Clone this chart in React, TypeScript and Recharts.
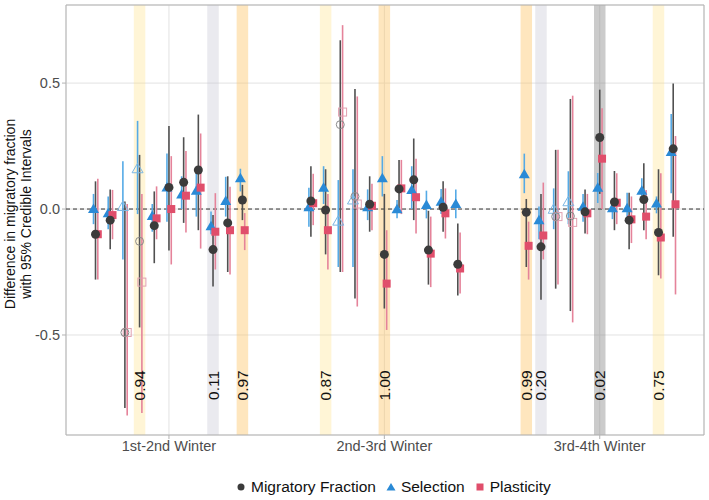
import React from 'react';
import { ComposedChart, Scatter, XAxis, YAxis, CartesianGrid, ReferenceLine, ReferenceArea, ErrorBar } from 'recharts';

// Three winters, 11 contrasts each (plotting order, left to right)
const winters = ['1st-2nd Winter', '2nd-3rd Winter', '3rd-4th Winter'];

// Migratory fraction: estimate and 95% CrI
const mfEst = [
  -0.10, -0.044, -0.49, -0.128, -0.066, 0.086, 0.106, 0.155, -0.161, -0.055, 0.036,
  0.032, -0.004, 0.335, 0.05, 0.019, -0.18, 0.08, 0.116, -0.163, 0.007, -0.219,
  -0.013, -0.15, -0.03, -0.028, -0.011, 0.284, 0.028, -0.044, 0.038, -0.093, 0.239,
];
const mfLow = [
  -0.28, -0.16, -0.79, -0.47, -0.215, -0.165, -0.055, -0.084, -0.307, -0.25, -0.044,
  -0.11, -0.18, -0.25, -0.355, -0.09, -0.395, 0.003, -0.044, -0.30, -0.09, -0.343,
  -0.23, -0.36, -0.316, -0.405, -0.097, 0.06, -0.084, -0.16, -0.084, -0.263, -0.11,
];
const mfHigh = [
  0.11, 0.078, 0.03, 0.215, 0.07, 0.33, 0.285, 0.375, -0.024, 0.13, 0.096,
  0.17, 0.158, 0.67, 0.477, 0.13, 0.06, 0.195, 0.28, -0.007, 0.11, -0.057,
  0.04, 0.06, 0.235, 0.437, 0.078, 0.474, 0.151, 0.065, 0.182, 0.158, 0.498,
];

// Selection
const selEst = [
  0.0, -0.017, 0.01, 0.16, -0.028, 0.086, 0.058, 0.073, -0.068, 0.032, 0.122,
  0.007, 0.085, -0.048, 0.036, 0.007, 0.122, -0.001, 0.076, 0.016, 0.029, 0.02,
  0.138, -0.044, -0.001, 0.029, 0.009, 0.085, 0.003, 0.003, 0.073, 0.022, 0.226,
];
const selLow = [
  -0.06, -0.08, -0.20, -0.02, -0.09, -0.05, 0.0, -0.03, -0.10, -0.03, 0.07,
  -0.07, 0.02, -0.23, -0.23, -0.044, 0.05, -0.037, 0.0, -0.037, -0.02, -0.037,
  0.063, -0.12, -0.08, -0.06, -0.05, 0.024, -0.04, -0.03, 0.029, -0.017, 0.063,
];
const selHigh = [
  0.06, 0.05, 0.19, 0.35, 0.02, 0.22, 0.13, 0.15, -0.01, 0.128, 0.16,
  0.085, 0.17, 0.115, 0.158, 0.078, 0.21, 0.036, 0.17, 0.073, 0.08, 0.078,
  0.22, 0.01, 0.082, 0.15, 0.06, 0.143, 0.036, 0.065, 0.122, 0.05, 0.377,
];

// Plasticity
const plaEst = [
  -0.10, -0.024, -0.49, -0.29, -0.037, 0.0, 0.053, 0.085, -0.09, -0.084, -0.084,
  0.023, -0.084, 0.385, 0.02, 0.013, -0.296, 0.082, 0.047, -0.177, -0.017, -0.236,
  -0.146, -0.105, -0.03, -0.053, -0.017, 0.2, 0.025, -0.041, -0.03, -0.113, 0.019,
];
const plaLow = [
  -0.28, -0.12, -0.82, -0.81, -0.12, -0.22, -0.093, -0.157, -0.24, -0.26, -0.163,
  -0.064, -0.24, -0.25, -0.387, -0.084, -0.48, -0.02, -0.097, -0.31, -0.117, -0.335,
  -0.28, -0.20, -0.30, -0.45, -0.10, 0.0, -0.06, -0.135, -0.12, -0.276, -0.339,
];
const plaHigh = [
  0.12, 0.076, 0.02, 0.06, 0.09, 0.21, 0.23, 0.30, 0.063, 0.088, -0.016,
  0.14, 0.06, 0.73, 0.447, 0.10, -0.084, 0.195, 0.2, -0.03, 0.082, -0.093,
  -0.05, 0.105, 0.235, 0.45, 0.06, 0.4, 0.142, 0.05, 0.076, 0.142, 0.29,
];

// contrasts drawn with open symbols
const openIdx = [2, 3, 13, 14, 24, 25];

// highlighted contrasts and their posterior probability
const highlighted = [
  { idx: 3, p: '0.94' },
  { idx: 8, p: '0.11' },
  { idx: 10, p: '0.97' },
  { idx: 12, p: '0.87' },
  { idx: 16, p: '1.00' },
  { idx: 22, p: '0.99' },
  { idx: 23, p: '0.20' },
  { idx: 27, p: '0.02' },
  { idx: 31, p: '0.75' },
];

const X_MIN = 0.522;
const X_MAX = 3.484;
const Y_MIN = -0.897;
const Y_MAX = 0.81;
const SLOT = 0.0682;
const BAND_HALF = 0.0267;
const FONT = '"Liberation Sans", Arial, sans-serif';

const colors = {
  mf: '#3B3B3B',
  sel: '#2A8AD6',
  pla: '#E04E6B',
  mfBar: '#505050',
  selBar: '#55AAE6',
  plaBar: '#E5839A',
  grid: '#E2E2E2',
  border: '#B3B3B3',
  tick: '#4D4D4D',
};

const slotX = (i: number) => Math.floor(i / 11) + 1 + ((i % 11) - 5) * SLOT;

const build = (est: number[], low: number[], high: number[], dx: number) =>
  est.map((y, i) => ({
    x: slotX(i) + dx,
    y,
    err: [y - low[i], high[i] - y],
    open: openIdx.includes(i),
  }));

const mfData = build(mfEst, mfLow, mfHigh, 0);
const selData = build(selEst, selLow, selHigh, -0.0093);
const plaData = build(plaEst, plaLow, plaHigh, 0.0107);

const labelData = highlighted.map((h) => ({ x: slotX(h.idx), y: -0.7, text: h.p }));

const bandFill = (p: number) => {
  if (p >= 0.95) return 'rgba(253, 196, 100, 0.42)';
  if (p >= 0.5) return 'rgba(255, 226, 130, 0.33)';
  if (p > 0.05) return 'rgba(200, 200, 212, 0.38)';
  return 'rgba(140, 140, 140, 0.45)';
};

const Nothing = () => <g />;

const CircleMark = (props: any) => {
  const { cx, cy, payload } = props;
  if (payload.open) return <circle cx={cx} cy={cy} r={4} fill="none" stroke="#8A8A8A" strokeWidth={1} />;
  return <circle cx={cx} cy={cy} r={4.5} fill={colors.mf} />;
};

const TriangleMark = (props: any) => {
  const { cx, cy, payload } = props;
  const d = `M${cx},${cy - 5.5} L${cx - 5.5},${cy + 4} L${cx + 5.5},${cy + 4} Z`;
  if (payload.open) return <path d={d} fill="none" stroke="#7DB7E2" strokeWidth={1} />;
  return <path d={d} fill={colors.sel} />;
};

const SquareMark = (props: any) => {
  const { cx, cy, payload } = props;
  if (payload.open)
    return <rect x={cx - 4} y={cy - 4} width={8} height={8} fill="none" stroke="#E2A0B0" strokeWidth={1} />;
  return <rect x={cx - 4} y={cy - 4} width={8} height={8} fill={colors.pla} />;
};

const ProbLabel = (props: any) => {
  const { cx, cy, payload } = props;
  return (
    <text
      x={cx}
      y={cy}
      transform={`rotate(-90 ${cx} ${cy})`}
      textAnchor="middle"
      dominantBaseline="central"
      fontSize={15.5}
      fill="#111"
      fontFamily={FONT}
    >
      {payload.text}
    </text>
  );
};

const legendItems = [
  { label: 'Migratory Fraction', shape: 'circle', color: colors.mf },
  { label: 'Selection', shape: 'triangle', color: colors.sel },
  { label: 'Plasticity', shape: 'square', color: colors.pla },
];

function LegendIcon({ shape, color }: { shape: string; color: string }) {
  return (
    <svg width={10} height={10} style={{ marginRight: 5 }}>
      {shape === 'circle' && <circle cx={5} cy={5} r={3.5} fill={color} />}
      {shape === 'triangle' && <path d="M5,1 L9.5,8.5 L0.5,8.5 Z" fill={color} />}
      {shape === 'square' && <rect x={1.5} y={1.5} width={7} height={7} fill={color} />}
    </svg>
  );
}

export default function App() {
  return (
    <div style={{ position: 'relative', width: 709, height: 500, fontFamily: FONT, background: '#fff' }}>
      <style>{'body{margin:0}'}</style>
      <ComposedChart width={709} height={500} margin={{ top: 5, right: 5, bottom: 35, left: 0 }}>
        <CartesianGrid stroke={colors.grid} strokeWidth={1} />
        <XAxis
          type="number"
          dataKey="x"
          domain={[X_MIN, X_MAX]}
          allowDataOverflow
          ticks={[1, 2, 3]}
          tickFormatter={(v: number) => winters[Math.round(v) - 1]}
          axisLine={false}
          tickLine={{ stroke: colors.border }}
          tickSize={4}
          tick={{ fill: colors.tick, fontSize: 14.5 }}
          height={30}
        />
        <YAxis
          type="number"
          dataKey="y"
          domain={[Y_MIN, Y_MAX]}
          allowDataOverflow
          ticks={[-0.5, 0, 0.5]}
          tickFormatter={(v: number) => v.toFixed(1)}
          axisLine={false}
          tickLine={{ stroke: colors.border }}
          tickSize={4}
          tick={{ fill: colors.tick, fontSize: 14.5 }}
          width={66}
        />
        {highlighted.map((h) => (
          <ReferenceArea
            key={h.idx}
            x1={slotX(h.idx) - BAND_HALF}
            x2={slotX(h.idx) + BAND_HALF}
            y1={Y_MIN}
            y2={Y_MAX}
            fill={bandFill(parseFloat(h.p))}
            fillOpacity={1}
            stroke="none"
          />
        ))}
        <ReferenceLine y={0} stroke="#333" strokeDasharray="4 3" strokeWidth={1} />

        {/* interval lines first so every symbol sits on top */}
        <Scatter data={selData} shape={Nothing} isAnimationActive={false} legendType="none">
          <ErrorBar dataKey="err" direction="y" width={0} stroke={colors.selBar} strokeWidth={1.6} />
        </Scatter>
        <Scatter data={mfData} shape={Nothing} isAnimationActive={false} legendType="none">
          <ErrorBar dataKey="err" direction="y" width={0} stroke={colors.mfBar} strokeWidth={1.6} />
        </Scatter>
        <Scatter data={plaData} shape={Nothing} isAnimationActive={false} legendType="none">
          <ErrorBar dataKey="err" direction="y" width={0} stroke={colors.plaBar} strokeWidth={1.6} />
        </Scatter>

        <Scatter data={selData} shape={TriangleMark} isAnimationActive={false} />
        <Scatter data={plaData} shape={SquareMark} isAnimationActive={false} />
        <Scatter data={mfData} shape={CircleMark} isAnimationActive={false} />

        <Scatter data={labelData} shape={ProbLabel} isAnimationActive={false} legendType="none" />

        <ReferenceArea x1={X_MIN} x2={X_MAX} y1={Y_MIN} y2={Y_MAX} fill="none" stroke={colors.border} strokeWidth={1} />
      </ComposedChart>

      <div
        style={{
          position: 'absolute',
          left: 18 - 150,
          top: 214 - 16,
          width: 300,
          height: 32,
          transform: 'rotate(-90deg)',
          textAlign: 'center',
          fontSize: 14,
          lineHeight: '16px',
          color: '#111',
        }}
      >
        Difference in migratory fraction
        <br />
        with 95% Credible Intervals
      </div>

      <div
        style={{
          position: 'absolute',
          left: 236,
          top: 478,
          display: 'flex',
          alignItems: 'center',
          fontSize: 15.5,
          color: '#111',
        }}
      >
        {legendItems.map((item) => (
          <div key={item.label} style={{ display: 'flex', alignItems: 'center', marginRight: 10 }}>
            <LegendIcon shape={item.shape} color={item.color} />
            <span>{item.label}</span>
          </div>
        ))}
      </div>
    </div>
  );
}
